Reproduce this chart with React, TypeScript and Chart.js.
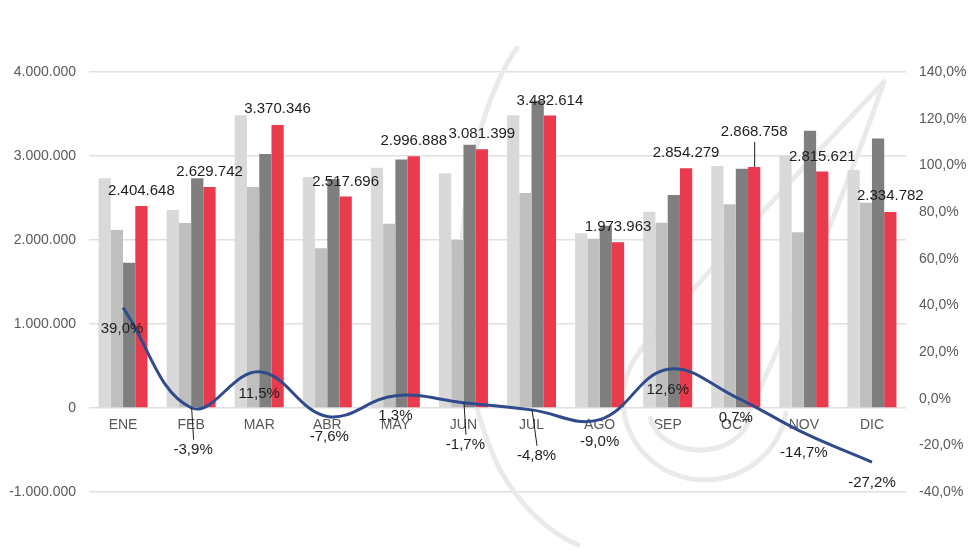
import React, { useEffect, useRef } from 'react';
import { Chart, registerables } from 'chart.js';

Chart.register(...registerables);

const categories = ['ENE', 'FEB', 'MAR', 'ABR', 'MAY', 'JUN', 'JUL', 'AGO', 'SEP', 'OCT', 'NOV', 'DIC'];
const serie1 = [2734000, 2357000, 3484000, 2750000, 2861000, 2794000, 3484000, 2080000, 2337000, 2881000, 3000000, 2833000];
const serie2 = [2119000, 2202000, 2631000, 1901000, 2194000, 2000000, 2560000, 2016000, 2206000, 2425000, 2092000, 2444000];
const serie3 = [1730000, 2736000, 3023000, 2725000, 2958000, 3135000, 3658000, 2169000, 2535000, 2849000, 3301000, 3207000];
const serie4 = [2404648, 2629742, 3370346, 2517696, 2996888, 3081399, 3482614, 1973963, 2854279, 2868758, 2815621, 2334782];
const variacion = [39.0, -3.9, 11.5, -7.6, 1.3, -1.7, -4.8, -9.0, 12.6, 0.7, -14.7, -27.2];

// label placement (style only)
const barLabelLift = [15, 15, 16, 15, 15, 15, 15, 15, 15, 35, 15, 16];
const lineLabelDrop = [21, 42, 22, 20, 20, 42, 46, 22, 21, 21, 20, 21];
const lineLabelShift = [-1, 2, 0, 2, 0, 2, 5, 0, 0, 0, 0, 0];

const FAMILY = '"Liberation Sans", Arial, sans-serif';
const AXIS_COLOR = '#595959';
const LABEL_COLOR = '#1E1E1E';

function fmtMiles(v: number): string {
  const s = Math.abs(Math.round(v)).toString().replace(/\B(?=(\d{3})+(?!\d))/g, '.');
  return (v < 0 ? '-' : '') + s;
}
function fmtPct(v: number): string {
  return v.toFixed(1).replace('.', ',') + '%';
}

const watermark = {
  id: 'watermark',
  beforeDatasetsDraw(chart: any) {
    const ctx = chart.ctx;
    ctx.save();
    ctx.strokeStyle = '#EAEAEA';
    ctx.lineWidth = 5;
    ctx.lineCap = 'round';
    // big outer arc
    ctx.beginPath();
    ctx.moveTo(517, 48);
    ctx.bezierCurveTo(462, 125, 432, 330, 500, 470);
    ctx.quadraticCurveTo(532, 525, 578, 545);
    ctx.stroke();
    // diagonal strokes
    ctx.beginPath();
    ctx.moveTo(884, 82);
    ctx.quadraticCurveTo(780, 190, 640, 350);
    ctx.stroke();
    ctx.beginPath();
    ctx.moveTo(884, 82);
    ctx.quadraticCurveTo(825, 250, 750, 410);
    ctx.stroke();
    // loops
    ctx.beginPath();
    ctx.ellipse(705, 400, 82, 80, 0, -1.75, 0.17, true);
    ctx.stroke();
    ctx.beginPath();
    ctx.ellipse(700, 412, 50, 38, 0, 2.97, 0.35, true);
    ctx.stroke();
    ctx.restore();
  },
};

const dataLabels = {
  id: 'dataLabels',
  afterDatasetsDraw(chart: any) {
    const ctx = chart.ctx;
    ctx.save();
    ctx.font = `15px ${FAMILY}`;
    ctx.fillStyle = LABEL_COLOR;
    ctx.strokeStyle = '#1E1E1E';
    ctx.lineWidth = 1;
    ctx.textAlign = 'center';
    ctx.textBaseline = 'middle';

    const barMeta = chart.getDatasetMeta(3);
    barMeta.data.forEach((el: any, i: number) => {
      const { x, y } = el.getProps(['x', 'y'], true);
      const lift = barLabelLift[i];
      const ty = y - lift;
      if (lift > 20) {
        ctx.beginPath();
        ctx.moveTo(x + 0.5, y);
        ctx.lineTo(x + 0.5, ty + 10);
        ctx.stroke();
      }
      ctx.fillText(fmtMiles(serie4[i]), x, ty);
    });

    const lineMeta = chart.getDatasetMeta(4);
    lineMeta.data.forEach((el: any, i: number) => {
      const { x, y } = el.getProps(['x', 'y'], true);
      const drop = lineLabelDrop[i];
      const tx = x + lineLabelShift[i];
      const ty = y + drop;
      if (drop > 30) {
        ctx.beginPath();
        ctx.moveTo(x + 0.5, y);
        ctx.lineTo(tx + 0.5, ty - 10);
        ctx.stroke();
      }
      ctx.fillText(fmtPct(variacion[i]), tx, ty);
    });
    ctx.restore();
  },
};

export default function App() {
  const ref = useRef<HTMLCanvasElement | null>(null);

  useEffect(() => {
    if (!ref.current) return;
    const chart = new Chart(ref.current, {
      type: 'bar',
      data: {
        labels: categories,
        datasets: [
          { label: 'Serie 1', data: serie1, backgroundColor: '#D9D9D9', yAxisID: 'y', order: 1 },
          { label: 'Serie 2', data: serie2, backgroundColor: '#BFBFBF', yAxisID: 'y', order: 1 },
          { label: 'Serie 3', data: serie3, backgroundColor: '#7F7F7F', yAxisID: 'y', order: 1 },
          { label: 'Serie 4', data: serie4, backgroundColor: '#EA3A4E', yAxisID: 'y', order: 1 },
          {
            type: 'line',
            label: 'Variación',
            data: variacion,
            yAxisID: 'y1',
            borderColor: '#2F4B8C',
            borderWidth: 3,
            pointRadius: 0,
            tension: 0.4,
            fill: false,
            order: 0,
          } as any,
        ],
      },
      options: {
        animation: false,
        responsive: false,
        layout: { padding: { top: 72, bottom: 68, left: 0, right: 0 } },
        plugins: { legend: { display: false }, tooltip: { enabled: false } },
        datasets: { bar: { categoryPercentage: 0.72, barPercentage: 1 } },
        scales: {
          x: {
            position: { y: 0 } as any,
            grid: { display: false, drawTicks: false },
            border: { display: false },
            ticks: { padding: 9, color: AXIS_COLOR, font: { size: 14, family: FAMILY } },
          },
          y: {
            position: 'left',
            min: -1000000,
            max: 4000000,
            ticks: {
              stepSize: 1000000,
              padding: 13,
              color: AXIS_COLOR,
              font: { size: 14, family: FAMILY },
              callback: (v: any) => fmtMiles(Number(v)),
            },
            grid: { color: '#E0E0E0', lineWidth: 1.5, drawTicks: false },
            border: { display: false },
            afterFit: (s: any) => { s.width = 89; },
          },
          y1: {
            position: 'right',
            min: -40,
            max: 140,
            ticks: {
              stepSize: 20,
              padding: 13,
              color: AXIS_COLOR,
              font: { size: 14, family: FAMILY },
              callback: (v: any) => fmtPct(Number(v)),
            },
            grid: { display: false, drawTicks: false },
            border: { display: false },
            afterFit: (s: any) => { s.width = 74; },
          },
        },
      } as any,
      plugins: [watermark, dataLabels],
    });
    return () => chart.destroy();
  }, []);

  return (
    <div style={{ position: 'fixed', left: 0, top: 0, width: 980, height: 560, background: '#fff' }}>
      <canvas ref={ref} width={980} height={560} />
    </div>
  );
}
